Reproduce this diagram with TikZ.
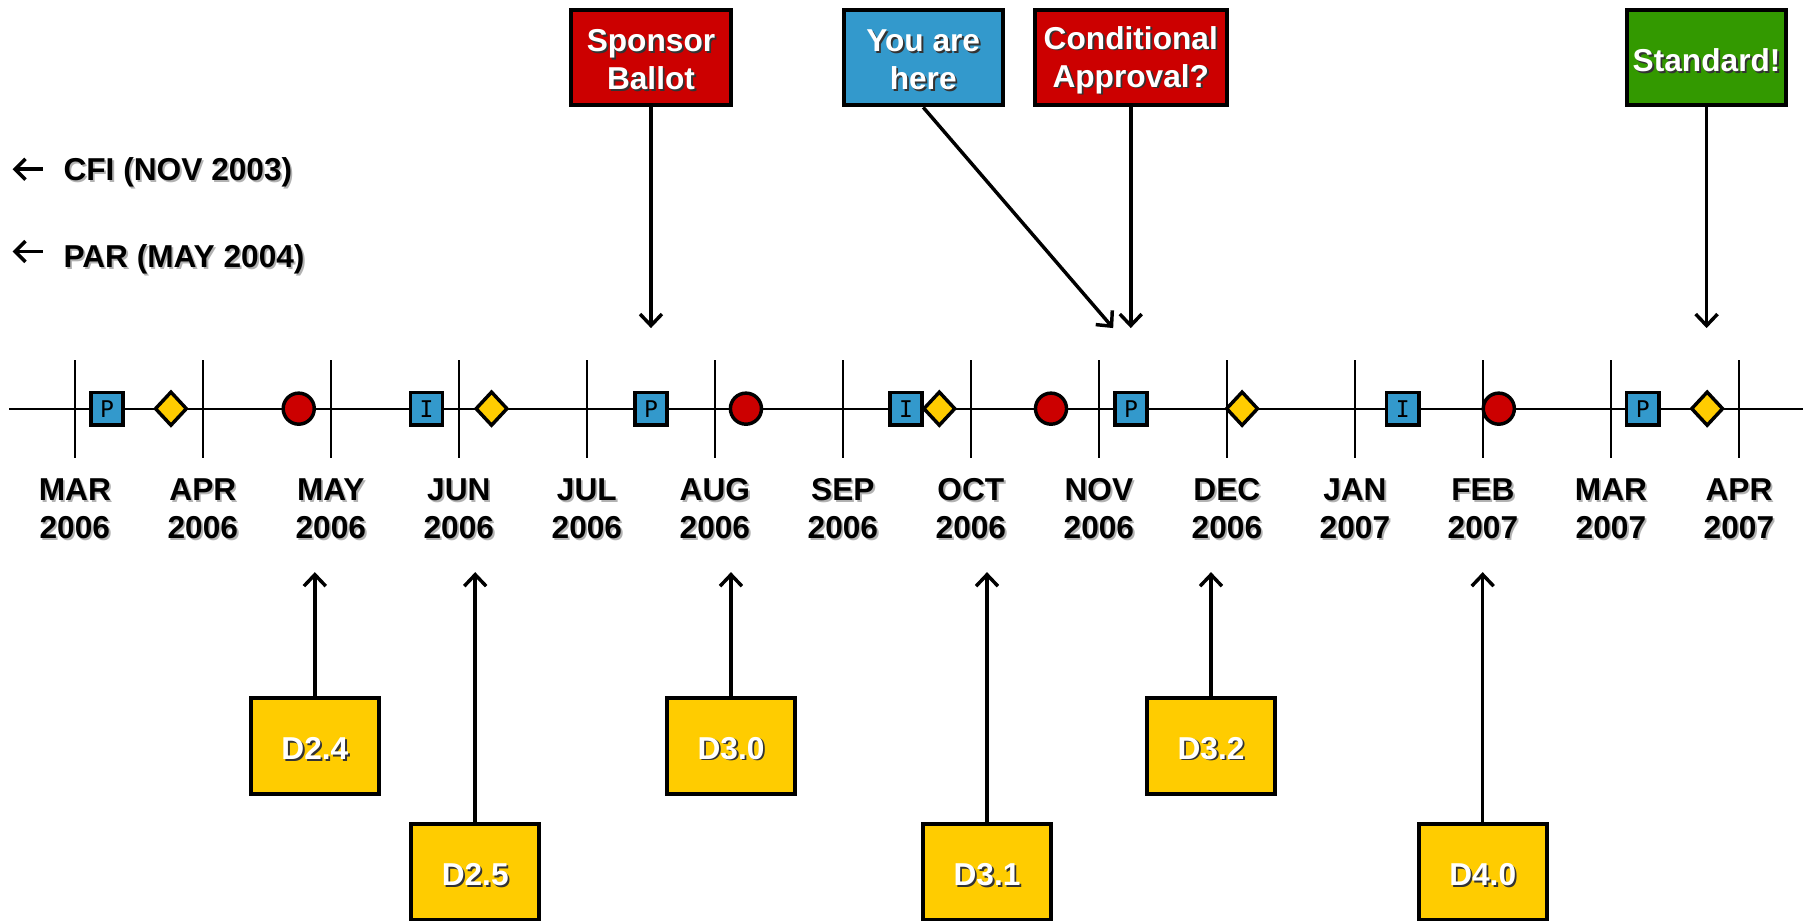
\documentclass[tikz,border=0pt]{standalone}
\usepackage{fontspec}
\setmainfont{Liberation Sans}
\newfontfamily\mkfont{DejaVu Sans Mono}
\usetikzlibrary{arrows.meta,shapes.geometric}
\definecolor{cred}{HTML}{CC0000}
\definecolor{cblue}{HTML}{3399CC}
\definecolor{cyel}{HTML}{FFCC00}
\definecolor{cgreen}{HTML}{339900}
\newcommand\lbfont{\fontsize{27.5}{33}\selectfont\bfseries}
\newcommand\shd[2]{\leavevmode\raisebox{-2.8pt}[\height][\depth]{\rlap{\kern1.6pt\raisebox{-1.6pt}{\textcolor{#1}{#2}}}#2}}
\newcommand\shW[1]{\shd{black!80}{#1}}
\newcommand\shB[1]{\shd{black!30}{#1}}
\begin{document}
\begin{tikzpicture}[x=1pt,y=-1pt,
  lbl/.style={font=\lbfont, align=center, inner sep=0pt},
  box/.style={draw=black, line width=3.5pt, minimum height=83pt, inner sep=0pt, text=white, font=\lbfont, align=center},
  dbox/.style={box, fill=cyel, minimum width=111.5pt},
  arr/.style={line width=3pt, -{Straight Barb[length=10pt,width=19pt]}},
  larr/.style={line width=3pt, -{Straight Barb[length=9pt,width=18pt]}},
  axis/.style={line width=1.75pt},
  sq/.style={draw=black, fill=cblue, line width=3pt, minimum size=28pt, inner sep=0pt, font=\mkfont\fontsize{20}{20}\selectfont},
  dot/.style={circle, draw=black, fill=cred, line width=3pt, minimum size=27pt, inner sep=0pt},
  dia/.style={diamond, draw=black, fill=cyel, line width=3pt, minimum width=28pt, minimum height=30pt, inner sep=0pt},
]
\useasboundingbox (0,0) rectangle (1568,800);
% timeline
\coordinate (L) at (8,355);
\coordinate (R) at (1566,355);
\draw[axis] (L) -- (R);
\foreach \i in {0,...,13} \draw[axis] ({65+111.2*\i},313) -- ({65+111.2*\i},398);
% month labels
\foreach \i/\m/\yr in {0/MAR/2006,1/APR/2006,2/MAY/2006,3/JUN/2006,4/JUL/2006,5/AUG/2006,6/SEP/2006,7/OCT/2006,8/NOV/2006,9/DEC/2006,10/JAN/2007,11/FEB/2007,12/MAR/2007,13/APR/2007}
  \node[lbl] (m\i) at ({65+111.2*\i},440) {\shB{\m}\\\shB{\yr}};
% markers
\node[sq] (p1) at (93,355) {P};
\node[dia] (y1) at (148.5,355) {};
\node[dot] (c1) at (259.5,355) {};
\node[sq] (i1) at (370.5,355) {I};
\node[dia] (y2) at (427,355) {};
\node[sq] (p2) at (565.5,355) {P};
\node[dot] (c2) at (648,355) {};
\node[sq] (i2) at (787,355) {I};
\node[dia] (y3) at (816,355) {};
\node[dot] (c3) at (913,355) {};
\node[sq] (p3) at (982.5,355) {P};
\node[dia] (y4) at (1079,355) {};
\node[sq] (i3) at (1218.5,355) {I};
\node[dot] (c4) at (1302,355) {};
\node[sq] (p4) at (1427,355) {P};
\node[dia] (y5) at (1483,355) {};
% left notes
\node[lbl, anchor=base west] (cfi) at (55,154) {\shB{CFI (NOV 2003)}};
\node[lbl, anchor=base west] (par) at (55,229.5) {\shB{PAR (MAY 2004)}};
\coordinate (cfia) at (37,147); \coordinate (cfib) at (11,147);
\coordinate (para) at (37,218.5); \coordinate (parb) at (11,218.5);
\draw[larr] (cfia) -- (cfib);
\draw[larr] (para) -- (parb);
% top boxes
\node[box, fill=cred, minimum width=139.5pt] (sb) at (565.5,50) {\shW{Sponsor}\\\shW{Ballot}};
\node[box, fill=cblue, minimum width=138.5pt] (yah) at (802,50) {\shW{You are}\\\shW{here}};
\node[box, fill=cred, minimum width=166.5pt] (ca) at (982.3,50) {\shW{Conditional}\\\shW{Approval?}};
\node[box, fill=cgreen, minimum width=138.5pt] (std) at (1482.5,50) {\shW{Standard!}};
\coordinate (sbt) at (565.5,285);
\coordinate (yaht) at (967,285);
\coordinate (cat) at (982.3,285);
\coordinate (stdt) at (1482.5,285);
\draw[arr] (sb.south) -- (sbt);
\draw[arr] (yah.south) -- (yaht);
\draw[arr] (ca.south) -- (cat);
\draw[arr] (std.south) -- (stdt);
% bottom boxes
\node[dbox] (d24) at (273.5,648) {\shW{D2.4}};
\node[dbox] (d25) at (412.8,757.5) {\shW{D2.5}};
\node[dbox] (d30) at (635,648) {\shW{D3.0}};
\node[dbox] (d31) at (857.4,757.5) {\shW{D3.1}};
\node[dbox] (d32) at (1052,648) {\shW{D3.2}};
\node[dbox] (d40) at (1288,757.5) {\shW{D4.0}};
\coordinate (d24t) at (273.5,497);
\coordinate (d25t) at (412.8,497);
\coordinate (d30t) at (635,497);
\coordinate (d31t) at (857.4,497);
\coordinate (d32t) at (1052,497);
\coordinate (d40t) at (1288,497);
\draw[arr] (d24.north) -- (d24t);
\draw[arr] (d25.north) -- (d25t);
\draw[arr] (d30.north) -- (d30t);
\draw[arr] (d31.north) -- (d31t);
\draw[arr] (d32.north) -- (d32t);
\draw[arr] (d40.north) -- (d40t);
\end{tikzpicture}
\end{document}
